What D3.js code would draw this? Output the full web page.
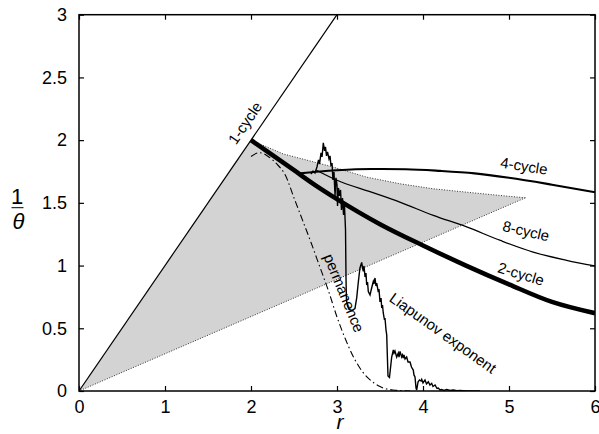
<!DOCTYPE html>
<html>
<head>
<meta charset="utf-8">
<script src="https://cdn.jsdelivr.net/npm/d3@7"></script>
<style>
body { margin: 0; background: #fff; }
svg text { font-family: "Liberation Sans", Arial, Helvetica, sans-serif; }
</style>
</head>
<body>
<svg width="599" height="434"></svg>
<script>
// **** Data ****
var xTicks = [0, 1, 2, 3, 4, 5, 6];
var xTickLabels = ["0", "1", "2", "3", "4", "5", "6"];
var yTicks = [0, 0.5, 1, 1.5, 2, 2.5, 3];
var yTickLabels = ["0", "0.5", "1", "1.5", "2", "2.5", "3"];

var oneCycleR = [0, 3];
var oneCycleY = [0, 3];

var twoCycleR = [2, 2.25, 2.5, 2.75, 3, 3.5, 4, 4.5, 5, 5.5, 6];
var twoCycleY = [2, 1.88, 1.76, 1.64, 1.53, 1.33, 1.16, 1.0, 0.85, 0.71, 0.62];

var fourCycleR = [2.57, 2.8, 3.0, 3.4, 3.8, 4.2, 4.6, 5.0, 5.5, 6];
var fourCycleY = [1.735, 1.75, 1.76, 1.77, 1.768, 1.755, 1.735, 1.70, 1.645, 1.585];

var eightCycleR = [2.76, 3.0, 3.4, 3.73, 4.12, 4.5, 4.9, 5.28, 5.67, 6];
var eightCycleY = [1.76, 1.68, 1.585, 1.506, 1.40, 1.31, 1.20, 1.108, 1.042, 0.997];

// shaded region: origin, top corner on the 1-cycle line, then the upper edge to the apex
var shadeR = [0, 2, 2.375, 2.957, 3.345, 3.733, 4.12, 4.508, 4.895, 5.19];
var shadeY = [0, 2, 1.89, 1.785, 1.705, 1.652, 1.612, 1.585, 1.559, 1.54];

var permR = [2.0, 2.1, 2.2, 2.3, 2.4, 2.5, 2.6, 2.7, 2.8, 2.9, 3.0, 3.1, 3.2, 3.3, 3.4, 3.5, 3.65, 3.85];
var permY = [1.87, 1.9, 1.87, 1.81, 1.72, 1.54, 1.36, 1.18, 0.99, 0.80, 0.59, 0.41, 0.26, 0.15, 0.08, 0.035, 0.008, 0];

var liapR = [2.698, 2.721, 2.744, 2.767, 2.785, 2.797, 2.814, 2.826, 2.841, 2.855,
    2.866, 2.878, 2.890, 2.907, 2.919, 2.930, 2.942, 2.953, 2.965, 2.977,
    2.988, 3.000, 3.006, 3.017, 3.029, 3.041, 3.052, 3.064, 3.076, 3.087,
    3.099, 3.105, 3.110, 3.122, 3.140, 3.174, 3.209, 3.229, 3.248, 3.267,
    3.287, 3.297, 3.306, 3.314, 3.326, 3.337, 3.345, 3.355, 3.364, 3.384,
    3.403, 3.422, 3.430, 3.442, 3.453, 3.462, 3.480, 3.488, 3.500, 3.512,
    3.520, 3.529, 3.538, 3.552, 3.558, 3.570, 3.578, 3.587, 3.593, 3.610,
    3.636, 3.655, 3.663, 3.674, 3.694, 3.713, 3.721, 3.733, 3.752, 3.762,
    3.771, 3.779, 3.791, 3.810, 3.826, 3.849, 3.866, 3.887, 3.895, 3.907,
    3.919, 3.927, 3.942, 3.959, 3.977, 3.985, 4.000, 4.023, 4.041, 4.062,
    4.081, 4.101, 4.116, 4.140, 4.163, 4.178, 4.198, 4.217, 4.244, 4.276,
    4.314, 4.352, 4.395, 4.430, 4.508, 4.663];
var liapY = [1.730, 1.754, 1.738, 1.786, 1.842, 1.810, 1.898, 1.866, 1.978, 1.914,
    1.946, 1.874, 1.906, 1.850, 1.874, 1.794, 1.818, 1.683, 1.746, 1.555,
    1.699, 1.643, 1.475, 1.619, 1.555, 1.603, 1.443, 1.539, 1.404, 1.483,
    1.284, 0.885, 0.726, 0.678, 0.650, 0.642, 0.658, 0.742, 0.869, 0.981,
    1.025, 0.981, 0.953, 0.997, 0.909, 0.941, 0.845, 0.869, 0.793, 0.766,
    0.821, 0.873, 0.853, 0.901, 0.837, 0.861, 0.789, 0.813, 0.710, 0.742,
    0.662, 0.686, 0.622, 0.566, 0.582, 0.486, 0.447, 0.247, 0.120, 0.108,
    0.271, 0.327, 0.303, 0.319, 0.271, 0.303, 0.271, 0.315, 0.271, 0.287,
    0.263, 0.287, 0.255, 0.271, 0.231, 0.231, 0.191, 0.167, 0.128, 0.112,
    0.024, 0.008, 0.072, 0.088, 0.080, 0.093, 0.064, 0.088, 0.056, 0.074,
    0.048, 0.061, 0.036, 0.048, 0.020, 0.024, 0.008, 0.012, 0.004, 0.012,
    0.004, 0.008, 0.002, 0.004, 0, 0];

function pairs(rs, ys) {
    return rs.map(function (r, i) { return [r, ys[i]]; });
}

// **** Scales, frame and axes ****
var xScale = d3.scaleLinear().domain([0, 6]).range([79, 595]);
var yScale = d3.scaleLinear().domain([0, 3]).range([391, 14.7]);

var svg = d3.select('svg');

svg.append('clipPath').attr('id', 'plot')
    .append('rect')
    .attr('x', xScale(0)).attr('y', yScale(3))
    .attr('width', xScale(6) - xScale(0)).attr('height', yScale(0) - yScale(3));

var plot = svg.append('g').attr('clip-path', 'url(#plot)');

var straight = d3.line().x(function (d) { return xScale(d[0]); }).y(function (d) { return yScale(d[1]); });
var smooth = d3.line().x(function (d) { return xScale(d[0]); }).y(function (d) { return yScale(d[1]); })
    .curve(d3.curveMonotoneX);

var shade = pairs(shadeR, shadeY);

plot.append('path')
    .attr('d', straight(shade) + 'Z')
    .attr('fill', '#d3d3d3')
    .attr('stroke', 'none');

// dotted edges of the shaded region
plot.append('path')
    .attr('d', straight(shade.slice(1)))
    .attr('fill', 'none').attr('stroke', '#333').attr('stroke-width', 1)
    .attr('stroke-dasharray', '1,1.6');
plot.append('path')
    .attr('d', straight([shade[shade.length - 1], shade[0]]))
    .attr('fill', 'none').attr('stroke', '#333').attr('stroke-width', 1)
    .attr('stroke-dasharray', '1,1.6');

plot.append('path')
    .attr('d', straight(pairs(oneCycleR, oneCycleY)))
    .attr('fill', 'none').attr('stroke', '#000').attr('stroke-width', 1.2);

plot.append('path')
    .attr('d', smooth(pairs(permR, permY)))
    .attr('fill', 'none').attr('stroke', '#000').attr('stroke-width', 1.1)
    .attr('stroke-dasharray', '7,3,1.5,3');

plot.append('path')
    .attr('d', straight(pairs(liapR, liapY)))
    .attr('fill', 'none').attr('stroke', '#000').attr('stroke-width', 1.4)
    .attr('stroke-linejoin', 'miter');

plot.append('path')
    .attr('d', smooth(pairs(eightCycleR, eightCycleY)))
    .attr('fill', 'none').attr('stroke', '#000').attr('stroke-width', 1.3);

plot.append('path')
    .attr('d', smooth(pairs(fourCycleR, fourCycleY)))
    .attr('fill', 'none').attr('stroke', '#000').attr('stroke-width', 2.1);

plot.append('path')
    .attr('d', smooth(pairs(twoCycleR, twoCycleY)))
    .attr('fill', 'none').attr('stroke', '#000').attr('stroke-width', 4.6);

// **** Curve labels ****
function label(text, cx, cy, angle) {
    svg.append('text')
        .attr('transform', 'translate(' + cx + ',' + cy + ') rotate(' + angle + ')')
        .attr('text-anchor', 'middle')
        .attr('dy', '0.35em')
        .attr('font-size', '15px')
        .attr('fill', '#000')
        .text(text);
}
label('1-cycle', 245, 123, -55.6);
label('4-cycle', 524, 166, 9);
label('8-cycle', 526, 231, 13);
label('2-cycle', 521, 274, 17);
label('permanence', 344, 293, 67.6);
label('Liapunov exponent', 443, 333, 35.5);

// **** Axes (ticks inside, mirrored on top and right) ****
svg.append('g')
    .attr('transform', 'translate(0,' + yScale(0) + ')')
    .call(d3.axisBottom(xScale).tickValues(xTicks).tickSize(-5).tickSizeOuter(0).tickPadding(9)
        .tickFormat(function (d, i) { return xTickLabels[i]; }));
svg.append('g')
    .attr('transform', 'translate(0,' + yScale(3) + ')')
    .call(d3.axisTop(xScale).tickValues(xTicks).tickSize(-5).tickSizeOuter(0).tickFormat(''));
svg.append('g')
    .attr('transform', 'translate(' + xScale(0) + ',0)')
    .call(d3.axisLeft(yScale).tickValues(yTicks).tickSize(-5).tickSizeOuter(0).tickPadding(12)
        .tickFormat(function (d, i) { return yTickLabels[i]; }));
svg.append('g')
    .attr('transform', 'translate(' + xScale(6) + ',0)')
    .call(d3.axisRight(yScale).tickValues(yTicks).tickSize(-5).tickSizeOuter(0).tickFormat(''));

svg.selectAll('.domain').remove();
svg.selectAll('.tick line').attr('stroke', '#000').attr('stroke-width', 1.2);
svg.selectAll('.tick text')
    .attr('font-family', '"Liberation Sans", Arial, sans-serif')
    .attr('font-size', '18px')
    .attr('fill', '#000');

svg.append('rect')
    .attr('x', xScale(0)).attr('y', yScale(3))
    .attr('width', xScale(6) - xScale(0)).attr('height', yScale(0) - yScale(3))
    .attr('fill', 'none').attr('stroke', '#000').attr('stroke-width', 1.5);

// **** Axis titles ****
svg.append('text')
    .attr('x', 340).attr('y', 429)
    .attr('text-anchor', 'middle')
    .attr('font-family', '"Liberation Serif", "DejaVu Serif", serif')
    .attr('font-style', 'italic')
    .attr('font-size', '21px')
    .text('r');

svg.append('text')
    .attr('x', 17).attr('y', 204)
    .attr('text-anchor', 'middle')
    .attr('font-family', '"Liberation Serif", "DejaVu Serif", serif')
    .attr('font-size', '22px')
    .text('1');
svg.append('line')
    .attr('x1', 11.5).attr('x2', 23.5).attr('y1', 207.7).attr('y2', 207.7)
    .attr('stroke', '#000').attr('stroke-width', 1);
svg.append('text')
    .attr('x', 18.5).attr('y', 229)
    .attr('text-anchor', 'middle')
    .attr('font-family', '"Liberation Serif", "DejaVu Serif", serif')
    .attr('font-style', 'italic')
    .attr('font-size', '22px')
    .text('θ');
</script>
</body>
</html>
